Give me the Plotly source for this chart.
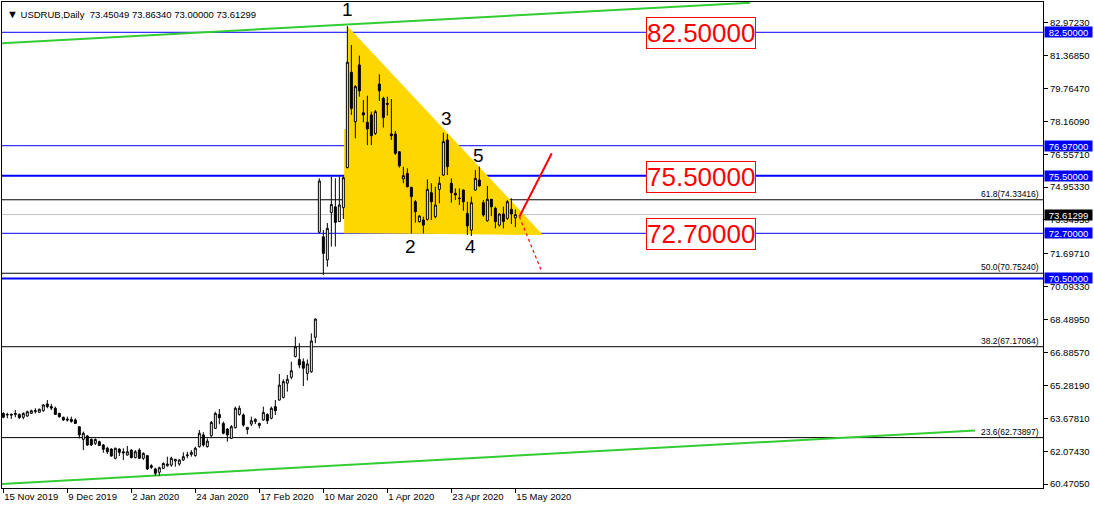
import plotly.graph_objects as go
import pandas as pd

# ---------------- data ----------------
holidays = ["2019-12-25", "2020-01-01"]
dates = [d.strftime("%Y-%m-%d") for d in pd.bdate_range("2019-11-15", "2020-05-15")
         if d.strftime("%Y-%m-%d") not in holidays]

opens = [63.92, 63.84, 63.87, 63.86, 63.87, 63.73, 63.79, 63.92, 64.00, 63.97,
         64.05, 64.38, 64.25, 64.17, 63.92, 63.73, 63.64, 63.63, 63.60, 63.27,
         62.65, 62.82, 62.65, 62.46, 62.54, 62.38, 62.22, 62.18, 61.73, 62.18,
         62.05, 61.89, 62.13, 61.76, 62.13, 61.73, 61.86, 61.37, 61.21, 61.05,
         61.24, 61.37, 61.40, 61.60, 61.45, 61.65, 61.86, 61.92, 61.86, 62.30,
         62.87, 62.30, 62.83, 63.19, 63.87, 63.43, 63.16, 62.70, 63.22, 63.87,
         63.84, 63.13, 63.40, 63.52, 63.33, 63.60, 63.87, 63.68, 64.25, 64.57,
         64.70, 65.39, 65.68, 66.69, 66.55, 66.44, 65.87, 65.95, 67.63, 72.75,
         72.53, 71.40, 73.71, 73.99, 73.27, 73.95, 75.90, 80.55, 78.14, 80.91,
         78.58, 78.11, 78.47, 77.57, 79.98, 79.28, 79.03, 77.54, 77.54, 76.68,
         75.35, 75.62, 74.94, 74.24, 73.27, 73.35, 73.38, 74.68, 73.51, 74.84,
         75.54, 77.25, 75.14, 74.65, 74.41, 74.81, 73.67, 72.86, 74.81, 75.30,
         74.19, 73.31, 74.36, 73.92, 73.10, 73.64, 73.43, 73.87, 73.45049]
highs = [63.97, 63.95, 63.92, 64.08, 63.92, 63.97, 64.05, 64.10, 64.17, 64.15,
         64.38, 64.57, 64.38, 64.25, 63.95, 63.76, 63.76, 63.76, 63.68, 63.29,
         63.03, 62.86, 62.70, 62.70, 62.59, 62.43, 62.30, 62.22, 62.25, 62.22,
         62.22, 62.33, 62.17, 62.13, 62.22, 62.02, 61.89, 61.44, 61.27, 61.32,
         61.53, 61.81, 61.81, 61.70, 61.68, 62.02, 62.05, 62.13, 62.30, 63.11,
         63.00, 62.70, 63.55, 64.00, 64.13, 63.52, 63.19, 63.35, 64.25, 64.30,
         63.92, 63.24, 63.76, 63.68, 63.47, 64.25, 63.92, 64.25, 64.57, 65.84,
         65.58, 65.79, 66.44, 67.66, 67.34, 66.60, 66.55, 67.82, 68.55, 75.38,
         72.86, 73.20, 75.46, 75.38, 75.46, 75.46, 82.80, 81.88, 79.93, 81.36,
         79.20, 79.41, 78.63, 78.71, 80.45, 79.36, 79.36, 79.25, 77.69, 76.71,
         75.95, 75.87, 74.97, 74.32, 73.59, 73.51, 75.33, 75.14, 74.97, 75.46,
         77.61, 77.54, 75.38, 74.89, 74.89, 74.84, 74.24, 74.49, 75.78, 75.95,
         74.32, 75.01, 74.36, 74.00, 73.67, 74.00, 74.32, 74.41, 73.86340]
lows = [63.68, 63.68, 63.65, 63.73, 63.65, 63.63, 63.76, 63.89, 63.92, 63.95,
        64.00, 64.17, 64.08, 63.84, 63.71, 63.55, 63.52, 63.47, 63.40, 62.70,
        62.13, 62.33, 62.33, 62.38, 62.33, 62.00, 61.94, 61.81, 61.68, 61.84,
        61.65, 61.86, 61.73, 61.73, 61.70, 61.65, 61.16, 61.21, 60.88, 60.88,
        61.21, 61.32, 61.32, 61.32, 61.37, 61.60, 61.73, 61.81, 61.81, 62.25,
        62.30, 62.25, 62.78, 63.16, 63.39, 62.90, 62.54, 62.67, 63.19, 63.81,
        63.27, 62.90, 63.30, 63.40, 63.19, 63.56, 63.40, 63.63, 63.84, 64.54,
        64.65, 64.98, 65.58, 66.65, 66.12, 65.25, 65.52, 65.90, 67.34, 72.70,
        70.67, 71.07, 72.05, 72.05, 73.27, 73.40, 75.87, 78.47, 77.33, 79.36,
        78.11, 77.00, 77.00, 77.49, 79.15, 77.85, 78.44, 77.25, 76.52, 75.90,
        75.14, 74.94, 72.70, 73.22, 73.22, 72.70, 73.32, 73.35, 73.43, 74.16,
        75.49, 75.54, 74.19, 74.32, 74.08, 73.80, 72.62, 72.57, 74.78, 74.97,
        73.51, 73.27, 73.54, 72.94, 73.02, 72.94, 73.35, 73.15, 73.00000]
closes = [63.73, 63.87, 63.84, 63.92, 63.71, 63.92, 64.00, 64.05, 64.05, 64.12,
          64.33, 64.25, 64.18, 63.87, 63.76, 63.60, 63.60, 63.53, 63.43, 62.87,
          62.95, 62.38, 62.38, 62.65, 62.35, 62.17, 62.05, 61.84, 62.22, 62.02,
          62.00, 62.05, 61.76, 62.05, 61.73, 61.97, 61.21, 61.29, 61.00, 61.27,
          61.48, 61.45, 61.73, 61.68, 61.65, 61.81, 61.89, 62.02, 62.22, 62.95,
          62.38, 62.57, 63.48, 63.92, 63.71, 62.95, 62.87, 63.27, 64.17, 64.17,
          63.35, 63.24, 63.56, 63.63, 63.43, 63.97, 63.56, 64.17, 64.05, 65.30,
          65.47, 65.58, 66.00, 67.17, 66.28, 66.12, 66.33, 67.45, 68.52, 75.25,
          71.72, 72.94, 74.11, 73.23, 74.08, 75.41, 81.04, 78.79, 79.85, 79.64,
          78.47, 77.79, 77.46, 78.63, 79.65, 78.34, 78.99, 77.46, 76.60, 75.99,
          75.51, 74.97, 74.49, 73.75, 73.54, 73.10, 74.84, 74.24, 74.08, 75.14,
          77.17, 75.95, 74.68, 74.57, 74.40, 74.24, 73.06, 74.19, 75.38, 75.01,
          73.59, 74.36, 73.99, 73.27, 73.64, 73.27, 74.24, 73.64, 73.61299]

tick_dates = ["2019-11-15", "2019-12-09", "2020-01-02", "2020-01-24", "2020-02-17",
              "2020-03-10", "2020-04-01", "2020-04-23", "2020-05-15"]
tick_texts = ["15 Nov 2019", "9 Dec 2019", "2 Jan 2020", "24 Jan 2020", "17 Feb 2020",
              "10 Mar 2020", "1 Apr 2020", "23 Apr 2020", "15 May 2020"]

price_ticks = [82.97230, 81.36850, 79.76470, 78.16090, 76.55710, 74.95330, 73.34950,
               71.69710, 70.09330, 68.48950, 66.88570, 65.28190, 63.67810, 62.07430, 60.47050]

blue_levels = [82.5, 76.97, 75.5, 72.7, 70.5]
blue_widths = [1, 1, 2, 1, 2]
fib_levels = [74.33416, 70.75240, 67.17064, 62.73897]
fib_names = ["61.8", "50.0", "38.2", "23.6"]
last_price = 73.61299
box_levels = [82.5, 75.5, 72.7]

# wave points (bar index, price, label)
wave_x = [86.0, 101.9, 110.9, 116.9, 118.8]
wave_y = [83.62, 72.08, 78.30, 72.08, 76.47]
wave_labels = ["1", "2", "3", "4", "5"]

# drawn objects (bar index, price)
upper_trend = [(-0.33, 81.97), (186.7, 83.94)]
lower_trend = [(-0.33, 60.48), (242.9, 63.09)]
triangle = [(86.0, 82.81), (134.9, 72.62), (110.0, 72.66), (85.2, 72.70), (85.2, 77.78), (86.0, 77.78)]
red_up = [(129.0, 73.51), (137.1, 76.60)]
red_down = [(129.0, 73.51), (134.6, 70.83)]

# ---------------- figure ----------------
x = list(range(len(dates)))
FONT = "Liberation Sans, Arial, sans-serif"

fig = go.Figure()
fig.add_trace(go.Candlestick(
    x=x, open=opens, high=highs, low=lows, close=closes,
    increasing=dict(line=dict(color="black", width=1), fillcolor="white"),
    decreasing=dict(line=dict(color="black", width=1), fillcolor="black"),
    hoverinfo="skip", showlegend=False,
))

shapes = []
path = "M " + " L ".join(f"{px},{py}" for px, py in triangle) + " Z"
shapes.append(dict(type="path", path=path, xref="x", yref="y",
                   fillcolor="#FFD700", line=dict(width=0), layer="below"))
for lv in fib_levels:
    shapes.append(dict(type="line", xref="paper", x0=0, x1=1, yref="y", y0=lv, y1=lv,
                       line=dict(color="black", width=1), layer="below"))
shapes.append(dict(type="line", xref="paper", x0=0, x1=1, yref="y", y0=last_price, y1=last_price,
                   line=dict(color="#C0C0C0", width=1), layer="below"))
for lv, w in zip(blue_levels, blue_widths):
    shapes.append(dict(type="line", xref="paper", x0=0, x1=1, yref="y", y0=lv, y1=lv,
                       line=dict(color="#0000FF", width=w), layer="below"))
for seg in (upper_trend, lower_trend):
    shapes.append(dict(type="line", xref="x", yref="y", x0=seg[0][0], y0=seg[0][1],
                       x1=seg[1][0], y1=seg[1][1], line=dict(color="#32CD32", width=2), layer="below"))
shapes.append(dict(type="line", xref="x", yref="y", x0=red_up[0][0], y0=red_up[0][1],
                   x1=red_up[1][0], y1=red_up[1][1], line=dict(color="#FF0000", width=2)))
shapes.append(dict(type="line", xref="x", yref="y", x0=red_down[0][0], y0=red_down[0][1],
                   x1=red_down[1][0], y1=red_down[1][1], line=dict(color="#FF0000", width=1.2, dash="dot")))

ann = []
# title
ann.append(dict(xref="paper", yref="paper", x=0, y=1, xanchor="left", yanchor="top",
                xshift=3, yshift=-4, showarrow=False,
                text='<span style="font-size:11px">▼</span> USDRUB,Daily  73.45049 73.86340 73.00000 73.61299',
                font=dict(family=FONT, size=9.5, color="black")))
# wave labels
for wx, wy, wl in zip(wave_x, wave_y, wave_labels):
    ann.append(dict(xref="x", yref="y", x=wx, y=wy, text=wl, showarrow=False,
                    font=dict(family=FONT, size=19, color="black")))
# red boxed labels
for lv in box_levels:
    ann.append(dict(xref="x", yref="y", x=174.4, y=lv, yshift=-1, text=f"{lv:.5f}", showarrow=False,
                    font=dict(family=FONT, size=26, color="#FF0000"),
                    bordercolor="#FF0000", borderwidth=1, borderpad=0, bgcolor="white"))
# fib labels
for lv, nm in zip(fib_levels, fib_names):
    ann.append(dict(xref="paper", yref="y", x=1, y=lv, xanchor="right", yanchor="bottom",
                    xshift=-2, yshift=-1, text=f"{nm}({lv:.5f})", showarrow=False,
                    font=dict(family=FONT, size=8.5, color="black")))
# axis price boxes
for lv in blue_levels:
    ann.append(dict(xref="paper", yref="y", x=1, y=lv, xanchor="left", yanchor="middle",
                    xshift=1, width=47, height=10, align="center",
                    text=f"{lv:.5f}", showarrow=False, bgcolor="#0000FF",
                    borderpad=0, font=dict(family=FONT, size=9.5, color="white")))
ann.append(dict(xref="paper", yref="y", x=1, y=last_price, xanchor="left", yanchor="middle",
                xshift=1, width=47, height=10, align="center",
                text=f"{last_price:.5f}", showarrow=False, bgcolor="black",
                borderpad=0, font=dict(family=FONT, size=9.5, color="white")))

tick_idx = [dates.index(d) for d in tick_dates]

fig.update_layout(
    width=1094, height=508,
    margin=dict(l=2, r=51, t=2, b=20),
    paper_bgcolor="white", plot_bgcolor="white",
    showlegend=False, shapes=shapes, annotations=ann,
    hovermode=False,
    xaxis=dict(range=[-0.33, 259.9], rangeslider=dict(visible=False),
               showgrid=False, zeroline=False, showline=True, mirror=True,
               linecolor="black", linewidth=1, ticks="outside", ticklen=4, tickcolor="black",
               tickvals=tick_idx, ticktext=tick_texts, ticklabelposition="outside right",
               tickfont=dict(family=FONT, size=9.5, color="black"), automargin=False),
    yaxis=dict(range=[60.282, 83.977], side="right",
               showgrid=False, zeroline=False, showline=True, mirror=True,
               linecolor="black", linewidth=1, ticks="outside", ticklen=4, tickcolor="black",
               tickvals=price_ticks, ticktext=[f"{v:.5f}" for v in price_ticks],
               tickfont=dict(family=FONT, size=9.5, color="black"), automargin=False),
)

fig.write_html("out.html", config=dict(displayModeBar=False),
               post_script="document.body.style.margin='0px';document.body.style.overflow='hidden';")
